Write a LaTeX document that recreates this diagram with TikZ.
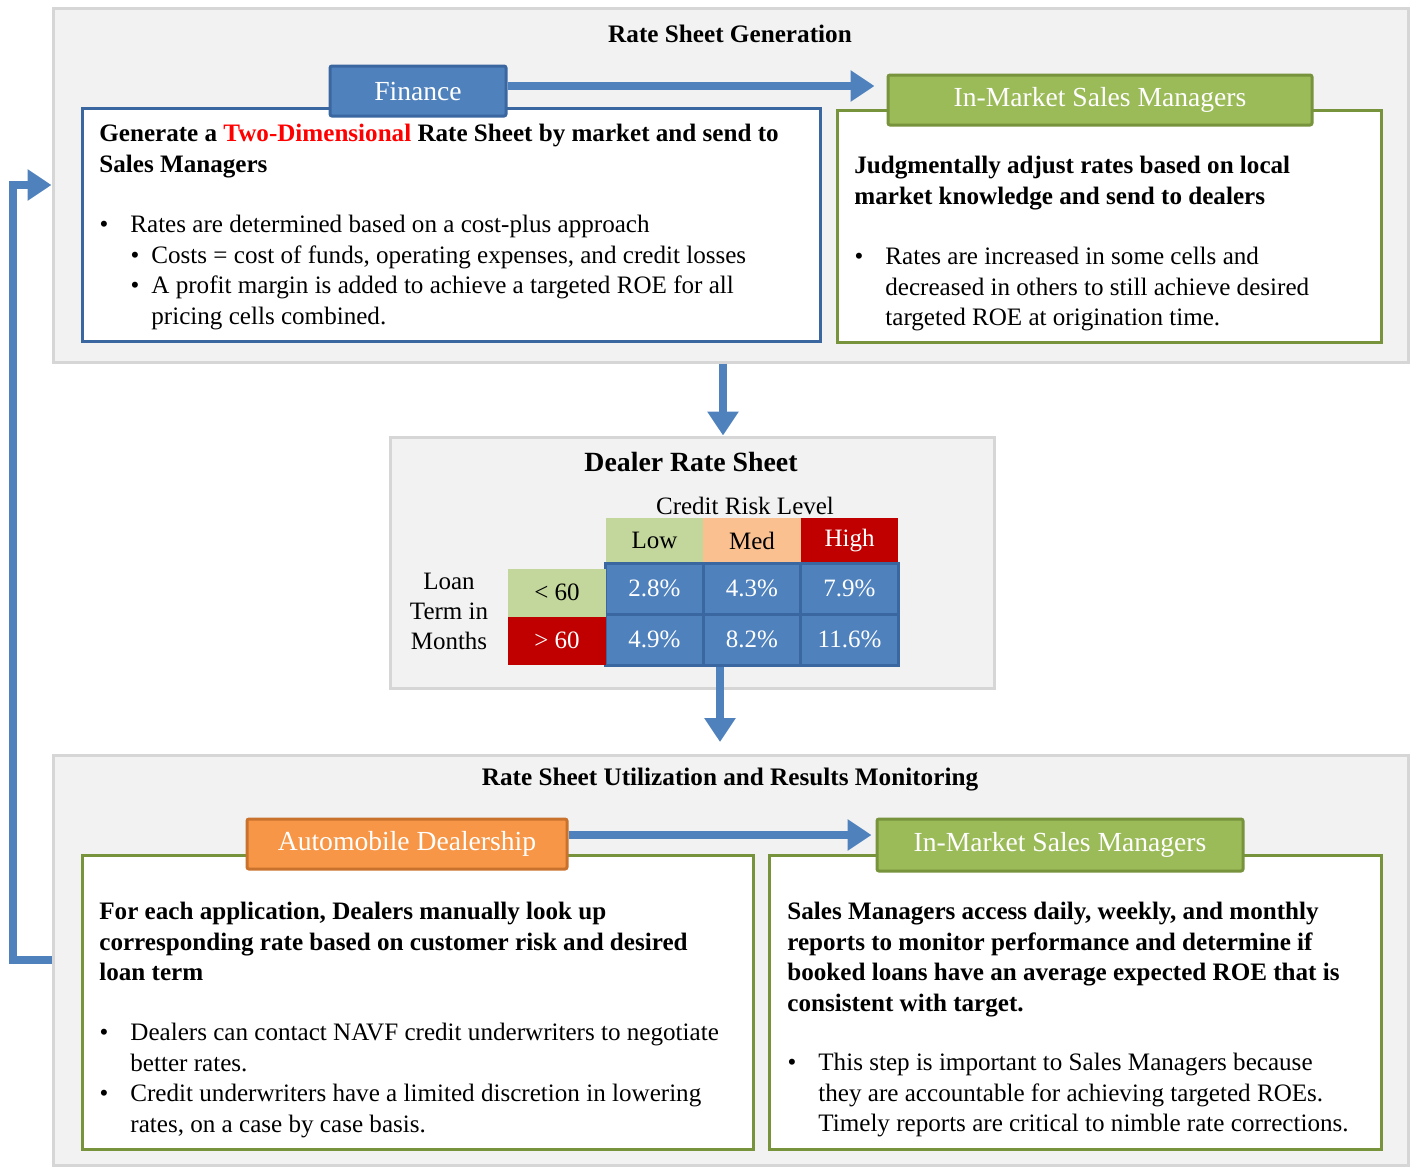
\documentclass[tikz,border=0pt]{standalone}
\usepackage{fontspec}
\setmainfont{Liberation Serif}
\usetikzlibrary{positioning,arrows.meta}

\definecolor{panelGray}{HTML}{F2F2F2}
\definecolor{panelLine}{HTML}{D6D6D6}
\definecolor{officeBlue}{HTML}{4F81BD}
\definecolor{officeBlueDark}{HTML}{3A67A0}
\definecolor{officeGreen}{HTML}{9BBB59}
\definecolor{officeGreenDark}{HTML}{77933C}
\definecolor{officeOrange}{HTML}{F79646}
\definecolor{officeOrangeDark}{HTML}{C8722E}
\definecolor{lightGreen}{HTML}{C3D69B}
\definecolor{peach}{HTML}{FAC090}
\definecolor{darkRed}{HTML}{C00000}

\newcommand{\bitem}{\llap{\textbullet\hspace{11pt}}}
\newcommand{\sitem}{\hspace*{10.5pt}\llap{\textbullet\hspace{6pt}}}

\begin{document}
\begin{tikzpicture}[x=0.5pt,y=-0.5pt,node distance=48.75pt,>={Triangle[width=15pt,length=12pt]}]
  \useasboundingbox (0,0) rectangle (1415,1167);
  \tikzset{
    panel/.style={rectangle,draw=panelLine,fill=panelGray,line width=1.5pt},
    panelTitle/.style={font=\fontsize{12.6}{15}\selectfont\bfseries},
    blueBox/.style={rectangle,draw=officeBlueDark,fill=white,line width=1.5pt},
    greenBox/.style={rectangle,draw=officeGreenDark,fill=white,line width=1.5pt},
    tab/.style={rectangle,rounded corners=1pt,line width=1.5pt,text=white,
      font=\fontsize{13.8}{16}\selectfont},
    blueTab/.style={tab,draw=officeBlueDark,fill=officeBlue},
    greenTab/.style={tab,draw=officeGreenDark,fill=officeGreen},
    orangeTab/.style={tab,draw=officeOrangeDark,fill=officeOrange},
    % text styles
    heading/.style={anchor=north west,inner sep=0pt,align=left,
      font=\fontsize{12.55}{15.2}\selectfont\bfseries},
    bullets/.style={anchor=north west,inner sep=0pt,align=left,
      font=\fontsize{12.55}{15.2}\selectfont},
    % table styles
    cell/.style={rectangle,minimum width=48.75pt,minimum height=22.5pt,inner sep=0pt,
      font=\fontsize{12.5}{14}\selectfont},
    rateCell/.style={cell,minimum height=25.5pt,fill=officeBlue,draw=officeBlueDark,
      line width=1.5pt,text=white},
    % edge styles
    flow/.style={->,draw=officeBlue,line width=4pt}
  }

  %%% Rate Sheet Generation

  \node[panel,minimum width=677.5pt,minimum height=177pt] (genPanel) at (730.5,185) {};
  \node[panelTitle] (genTitle) at (730,34) {Rate Sheet Generation};

  \node[blueBox,minimum width=369pt,minimum height=116.5pt] (finBox) at (451,224.5) {};
  \node[blueTab,minimum width=88pt,minimum height=25pt] (finTab) at (418,91) {Finance};

  \node[greenBox,minimum width=272pt,minimum height=116pt] (smBox) at (1109,226) {};
  \node[greenTab,minimum width=212pt,minimum height=25pt] (smTab) at (1100,100) {In-Market Sales Managers};

  \node[heading] (finHead) at (99,124)
    {Generate a \textcolor{red}{Two-Dimensional} Rate Sheet by market and send to\\
     Sales Managers};
  \node[bullets] (finList) at (130,215)
    {\bitem Rates are determined based on a cost-plus approach\\
     \sitem Costs = cost of funds, operating expenses, and credit losses\\
     \sitem A profit margin is added to achieve a targeted ROE for all\\
     \hspace*{10.5pt}pricing cells combined.};

  \node[heading] (smHead) at (854,156)
    {Judgmentally adjust rates based on local\\
     market knowledge and send to dealers};
  \node[bullets] (smList) at (885,247)
    {\bitem Rates are increased in some cells and\\
     decreased in others to still achieve desired\\
     targeted ROE at origination time.};

  \draw[flow] ([yshift=2.5pt]finTab.east) -- ([xshift=-6pt,yshift=2.5pt]smTab.west |- finTab.east);

  %%% Dealer Rate Sheet

  \node[panel,minimum width=302pt,minimum height=125.5pt] (dealerPanel) at (692,562.5) {};
  \node[font=\fontsize{13.9}{16}\selectfont\bfseries] (dealerTitle) at (691,462) {Dealer Rate Sheet};
  \node[font=\fontsize{12.5}{14}\selectfont] (riskLabel) at (745,506) {Credit Risk Level};

  \node[cell,fill=lightGreen] (low) at (654.5,540.5) {Low};
  \node[cell,fill=peach] (med) [right of=low] {Med};
  \node[cell,fill=darkRed,text=white] (high) [right of=med] {High};

  \node[rateCell] (rA1) [below of=low, node distance=24pt] {2.8\%};
  \node[rateCell] (rA2) [right of=rA1] {4.3\%};
  \node[rateCell] (rA3) [right of=rA2] {7.9\%};
  \node[rateCell] (rB1) [below of=rA1, node distance=25.5pt] {4.9\%};
  \node[rateCell] (rB2) [right of=rB1] {8.2\%};
  \node[rateCell] (rB3) [right of=rB2] {11.6\%};

  \node[cell,fill=lightGreen,minimum height=24pt] (lt60) [left of=rA1, yshift=-2pt] {< 60};
  \node[cell,fill=darkRed,text=white,minimum height=24pt] (gt60) [below of=lt60, node distance=24pt] {> 60};
  \node[align=center,font=\fontsize{12.5}{15}\selectfont] (termLabel) at (449,611) {Loan\\Term in\\Months};

  \draw[flow] (genPanel.south -| 723,0) -- (dealerPanel.north -| 723,0);

  %%% Rate Sheet Utilization

  \node[panel,minimum width=677.5pt,minimum height=205pt] (utilPanel) at (730.5,960) {};
  \node[panelTitle] (utilTitle) at (730,780) {Rate Sheet Utilization and Results Monitoring};

  \coordinate (utilIn) at (720,742);
  \draw[flow] (rB2.south -| 720,0) -- (utilIn);

  \node[greenBox,minimum width=335.5pt,minimum height=147pt] (dealBox) at (417.5,1002) {};
  \node[orangeTab,minimum width=160pt,minimum height=25pt] (dealTab) at (407,844) {Automobile Dealership};

  \node[greenBox,minimum width=306pt,minimum height=147pt] (repBox) at (1075,1002) {};
  \node[greenTab,minimum width=183pt,minimum height=26pt] (repTab) at (1060,845) {In-Market Sales Managers};

  \node[heading] (dealHead) at (99,902)
    {For each application, Dealers manually look up\\
     corresponding rate based on customer risk and desired\\
     loan term};
  \node[bullets] (dealList) at (130,1023)
    {\bitem Dealers can contact NAVF credit underwriters to negotiate\\
     better rates.\\
     \bitem Credit underwriters have a limited discretion in lowering\\
     rates, on a case by case basis.};

  \node[heading] (repHead) at (787,902)
    {Sales Managers access daily, weekly, and monthly\\
     reports to monitor performance and determine if\\
     booked loans have an average expected ROE that is\\
     consistent with target.};
  \node[bullets] (repList) at (818,1053)
    {\bitem This step is important to Sales Managers because\\
     they are accountable for achieving targeted ROEs.\\
     Timely reports are critical to nimble rate corrections.};

  \draw[flow] ([yshift=4.5pt]dealTab.east) -- ([xshift=-2pt,yshift=4.5pt]repTab.west |- dealTab.east);

  % feedback loop
  \draw[flow] (utilPanel.west) -- ++(-39,0) |- (genPanel.west);

\end{tikzpicture}
\end{document}
